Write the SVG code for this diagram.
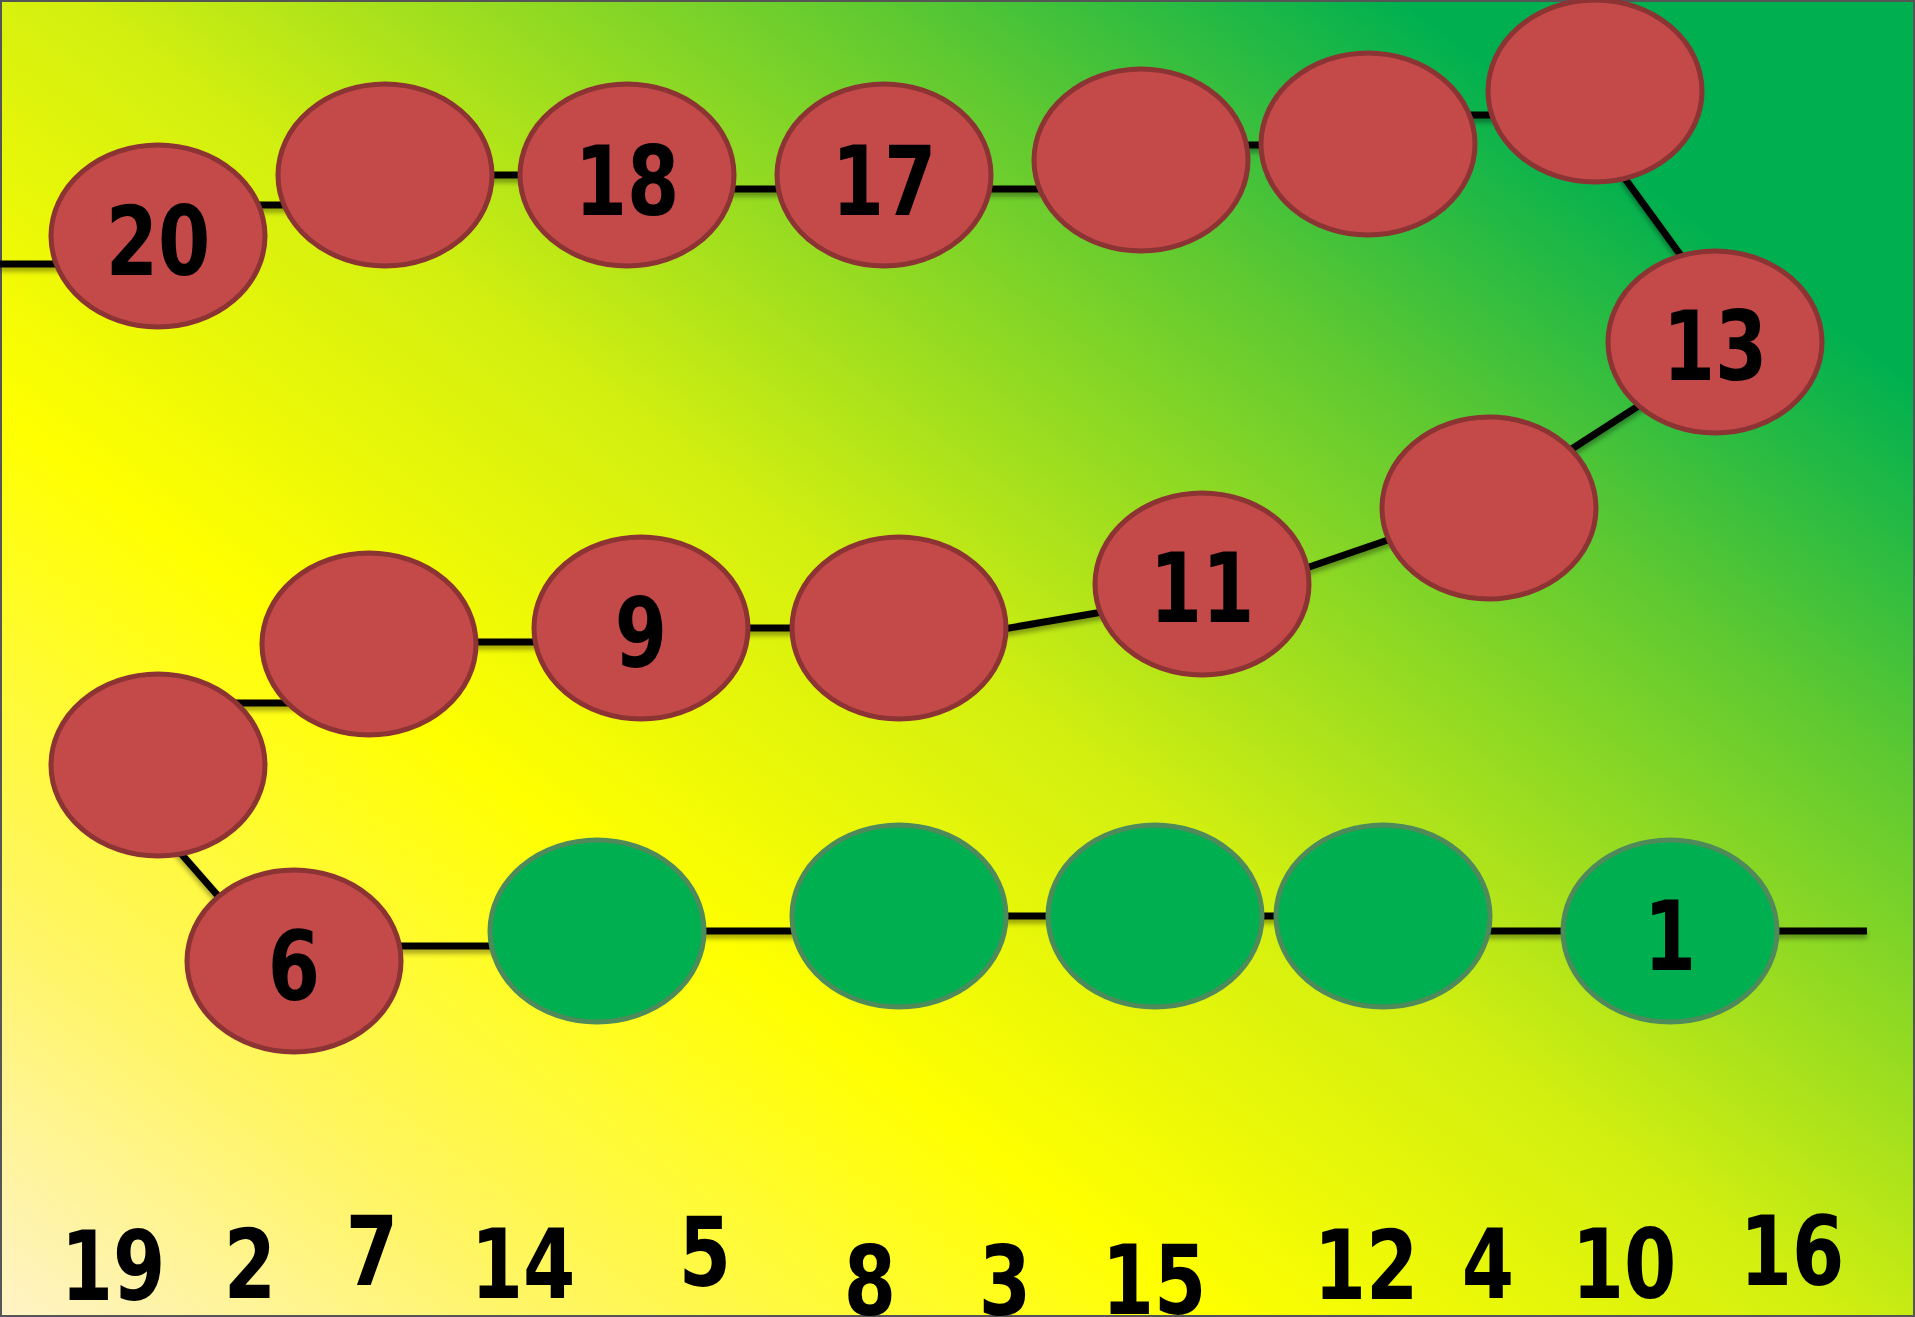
<svg xmlns="http://www.w3.org/2000/svg" width="1915" height="1317" viewBox="0 0 1915 1317">
<defs>
<linearGradient id="bg" gradientUnits="userSpaceOnUse" x1="0" y1="1317" x2="1318" y2="-446">
<stop offset="0" stop-color="#FFF3C8"/>
<stop offset="0.14" stop-color="#FFF56A"/>
<stop offset="0.33" stop-color="#FFFF00"/>
<stop offset="0.5" stop-color="#D2EF10"/>
<stop offset="0.72" stop-color="#5CC832"/>
<stop offset="0.86" stop-color="#00B050"/>
<stop offset="1" stop-color="#00B050"/>
</linearGradient>
<filter id="sh" x="-20%" y="-50%" width="140%" height="300%">
<feDropShadow dx="0" dy="4" stdDeviation="2.5" flood-color="#000" flood-opacity="0.35"/>
</filter>
</defs>
<style>
.red{fill:#C44A4A;stroke:#8C3333;stroke-width:5}
.grn{fill:#00B050;stroke:#4F8A5B;stroke-width:5}
.ln{stroke:#000;stroke-width:7;fill:none}
.t{font-family:"DejaVu Sans Condensed","DejaVu Sans","Liberation Sans",sans-serif;font-stretch:condensed;font-weight:bold;font-size:96px;fill:#000;text-anchor:middle;transform-box:fill-box;transform-origin:center;transform:scaleX(0.87)}
</style>
<rect x="0" y="0" width="1915" height="1317" fill="url(#bg)"/>
<rect x="1" y="1" width="1913" height="1315" fill="none" stroke="#555" stroke-width="2"/>
<g id="connectors" filter="url(#sh)">
<line class="ln" x1="0" y1="264" x2="100" y2="264"/>
<line class="ln" x1="240" y1="205" x2="300" y2="205"/>
<line class="ln" x1="450" y1="175" x2="560" y2="175"/>
<line class="ln" x1="700" y1="189" x2="800" y2="189"/>
<line class="ln" x1="960" y1="189" x2="1060" y2="189"/>
<line class="ln" x1="1220" y1="145" x2="1290" y2="145"/>
<line class="ln" x1="1440" y1="115" x2="1520" y2="115"/>
<line class="ln" x1="1610" y1="158" x2="1690" y2="268"/>
<line class="ln" x1="1660" y1="392" x2="1550" y2="463"/>
<line class="ln" x1="1420" y1="529" x2="1280" y2="577"/>
<line class="ln" x1="1120" y1="609" x2="980" y2="633"/>
<line class="ln" x1="720" y1="628" x2="800" y2="628"/>
<line class="ln" x1="440" y1="642" x2="560" y2="642"/>
<line class="ln" x1="230" y1="703" x2="300" y2="703"/>
<line class="ln" x1="170" y1="841" x2="240" y2="921"/>
<line class="ln" x1="380" y1="946" x2="520" y2="946"/>
<line class="ln" x1="680" y1="931" x2="820" y2="931"/>
<line class="ln" x1="980" y1="916" x2="1080" y2="916"/>
<line class="ln" x1="1240" y1="916" x2="1300" y2="916"/>
<line class="ln" x1="1470" y1="931" x2="1580" y2="931"/>
<line class="ln" x1="1760" y1="931" x2="1867" y2="931"/>
</g>
<g id="n20"><ellipse class="red" cx="158" cy="236" rx="107" ry="91"/><text class="t" x="158" y="275">20</text></g>
<g id="nA"><ellipse class="red" cx="385" cy="175" rx="107" ry="91"/></g>
<g id="n18"><ellipse class="red" cx="627" cy="175" rx="107" ry="91"/><text class="t" x="627" y="215">18</text></g>
<g id="n17"><ellipse class="red" cx="884" cy="175" rx="107" ry="91"/><text class="t" x="884" y="215">17</text></g>
<g id="nB"><ellipse class="red" cx="1141" cy="160" rx="107" ry="91"/></g>
<g id="nC"><ellipse class="red" cx="1368" cy="144" rx="107" ry="91"/></g>
<g id="nD"><ellipse class="red" cx="1595" cy="91" rx="107" ry="91"/></g>
<g id="n13"><ellipse class="red" cx="1715" cy="342" rx="107" ry="91"/><text class="t" x="1715" y="380">13</text></g>
<g id="nE"><ellipse class="red" cx="1489" cy="508" rx="107" ry="91"/></g>
<g id="n11"><ellipse class="red" cx="1202" cy="584" rx="107" ry="91"/><text class="t" x="1202" y="622">11</text></g>
<g id="nF"><ellipse class="red" cx="899" cy="628" rx="107" ry="91"/></g>
<g id="n9"><ellipse class="red" cx="641" cy="628" rx="107" ry="91"/><text class="t" x="641" y="667">9</text></g>
<g id="nG"><ellipse class="red" cx="369" cy="644" rx="107" ry="91"/></g>
<g id="nH"><ellipse class="red" cx="158" cy="765" rx="107" ry="91"/></g>
<g id="n6"><ellipse class="red" cx="294" cy="961" rx="107" ry="91"/><text class="t" x="294" y="1000">6</text></g>
<g id="g1"><ellipse class="grn" cx="597" cy="931" rx="107" ry="91"/></g>
<g id="g2"><ellipse class="grn" cx="899" cy="916" rx="107" ry="91"/></g>
<g id="g3"><ellipse class="grn" cx="1155" cy="916" rx="107" ry="91"/></g>
<g id="g4"><ellipse class="grn" cx="1383" cy="916" rx="107" ry="91"/></g>
<g id="n1"><ellipse class="grn" cx="1670" cy="931" rx="107" ry="91"/><text class="t" x="1670" y="970">1</text></g>
<g id="bottom-labels">
<text class="t" x="113" y="1300">19</text>
<text class="t" x="250" y="1298">2</text>
<text class="t" x="372" y="1285">7</text>
<text class="t" x="523" y="1298">14</text>
<text class="t" x="705" y="1286">5</text>
<text class="t" x="870" y="1315">8</text>
<text class="t" x="1005" y="1315">3</text>
<text class="t" x="1154" y="1314">15</text>
<text class="t" x="1366" y="1299">12</text>
<text class="t" x="1488" y="1298">4</text>
<text class="t" x="1624" y="1298">10</text>
<text class="t" x="1792" y="1285">16</text>
</g>
</svg>
